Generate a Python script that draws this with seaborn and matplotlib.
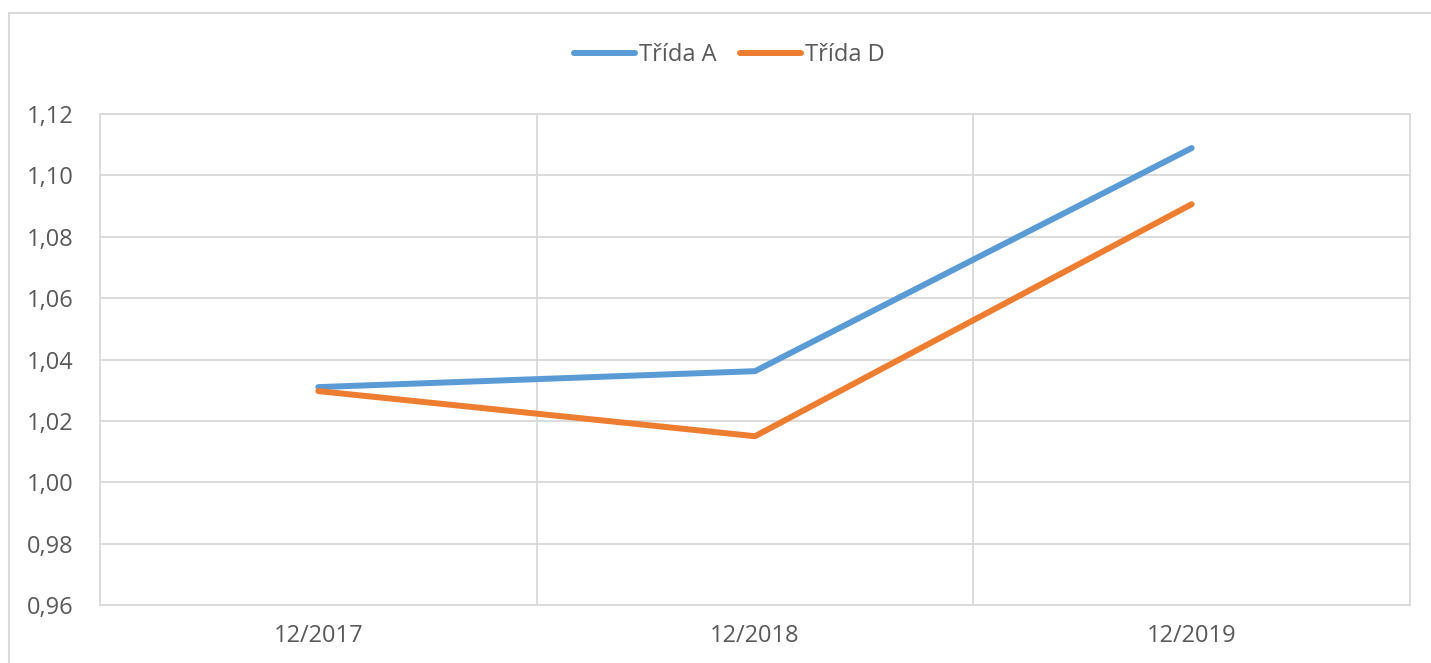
import pandas as pd
import numpy as np
import seaborn as sns
import matplotlib.pyplot as plt
from matplotlib.patches import Rectangle
from matplotlib.ticker import FuncFormatter, MultipleLocator

periods = ["12/2017", "12/2018", "12/2019"]
trida_a = [1.0310, 1.0362, 1.1089]
trida_d = [1.0297, 1.0150, 1.0906]
series_names = ["Třída A", "Třída D"]

df = pd.DataFrame({
    "obdobi": periods * 2,
    "hodnota": trida_a + trida_d,
    "trida": [series_names[0]] * 3 + [series_names[1]] * 3,
})

sns.set_style("white")
plt.rcParams['font.family'] = ['Open Sans', 'DejaVu Sans']

grid_col = "#D9D9D9"
text_col = "#595959"

fig = plt.figure(figsize=(14.31, 6.63), dpi=100)
ax = fig.add_axes([100 / 1431, 1 - 605 / 663, 1310 / 1431, 491 / 663])

sns.lineplot(data=df, x="obdobi", y="hodnota", hue="trida", sort=False,
             palette=["#5B9BD5", "#ED7D31"], linewidth=4.3, ax=ax,
             solid_capstyle="round", solid_joinstyle="round")

ax.set_xlim(-0.5, 2.5)
ax.set_ylim(0.96, 1.12)
ax.yaxis.set_major_locator(MultipleLocator(0.02))
ax.yaxis.set_major_formatter(FuncFormatter(lambda v, p: f"{v:.2f}".replace(".", ",")))
ax.set_xticks([0, 1, 2])
ax.set_xticks([0.5, 1.5], minor=True)
ax.set_xlabel("")
ax.set_ylabel("")

ax.grid(axis="y", which="major", color=grid_col, linewidth=1.3)
ax.grid(axis="x", which="minor", color=grid_col, linewidth=1.3)
ax.grid(axis="x", which="major", visible=False)
ax.set_axisbelow(True)
for s in ax.spines.values():
    s.set_color(grid_col)
    s.set_linewidth(1.3)

ax.tick_params(axis="y", length=0, pad=19, labelsize=17, labelcolor=text_col)
ax.tick_params(axis="x", which="both", length=0, pad=14, labelsize=17, labelcolor=text_col)

leg = ax.legend(loc="center", bbox_to_anchor=(729 / 1431, 1 - 55 / 663),
                bbox_transform=fig.transFigure, ncol=2, frameon=False,
                fontsize=17, handlelength=2.6, handletextpad=0.15,
                columnspacing=1.0, labelcolor=text_col)
for line in leg.get_lines():
    line.set_linewidth(4.3)
    line.set_solid_capstyle("round")

fig.patches.append(Rectangle((9 / 1431, -0.05), 1.1, 1 - 13 / 663 + 0.05,
                             transform=fig.transFigure, fill=False,
                             edgecolor=grid_col, linewidth=1.5))

fig.savefig("out.png", dpi=100)
